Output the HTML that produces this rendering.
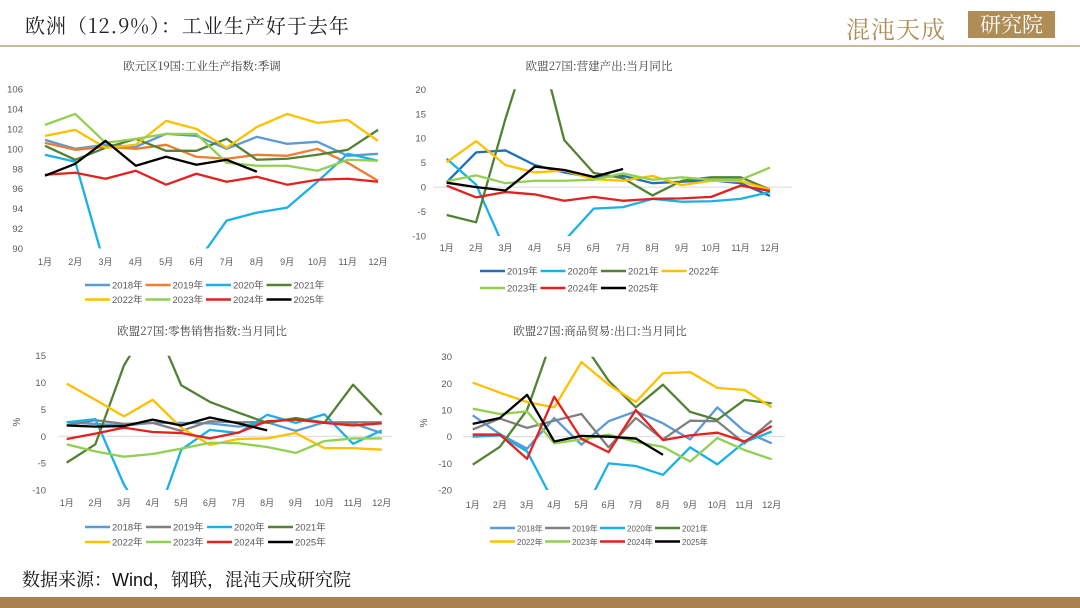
<!DOCTYPE html>
<html><head><meta charset="utf-8">
<style>
body{margin:0;width:1080px;height:608px;background:#fff;overflow:hidden;position:relative;font-family:"Liberation Sans","Noto Sans CJK SC",sans-serif}
#title{position:absolute;left:25px;top:10px;font-size:20px;color:#222;font-family:"Noto Serif CJK SC","Noto Sans CJK SC",serif;letter-spacing:1px}
#hline{position:absolute;left:0;top:45px;width:1080px;height:2px;background:#c9b99a}
#logo{position:absolute;left:846px;top:10px;font-size:24px;color:#b08d57;font-family:"Noto Serif CJK SC",serif;letter-spacing:1px}
#logobox{position:absolute;left:968px;top:11px;width:87px;height:27px;background:#b08d57;color:#fff;font-size:21px;text-align:center;line-height:27px;font-family:"Noto Serif CJK SC",serif}
#src{position:absolute;left:22px;top:566px;font-size:18px;color:#111;font-family:"Liberation Sans","Noto Serif CJK SC",serif}
#bar{position:absolute;left:0;top:597px;width:1080px;height:11px;background:#a98150}
svg{position:absolute;left:0;top:0}
</style></head><body>
<div id="title">欧洲（12.9%）：工业生产好于去年</div>
<div id="hline"></div>
<div id="logo">混沌天成</div>
<div id="logobox">研究院</div>
<div id="src">数据来源：Wind，钢联，混沌天成研究院</div>
<div id="bar"></div>
<svg id="svg" width="1080" height="608"></svg>
<script>
const months=["1月","2月","3月","4月","5月","6月","7月","8月","9月","10月","11月","12月"];
// Chart 1: Eurozone IP index
const c1Years=["2018年","2019年","2020年","2021年","2022年","2023年","2024年","2025年"];
const c1Ticks=[90,92,94,96,98,100,102,104,106];
const c1_2018=[100.9,100.0,100.4,100.2,101.5,101.3,100.0,101.2,100.5,100.7,99.3,99.5];
const c1_2019=[100.6,99.9,100.2,100.0,100.4,99.2,99.0,99.4,99.3,100.0,98.6,96.8];
const c1_2020=[99.4,98.7,88,75,80,88.5,92.8,93.6,94.1,96.7,99.5,98.8];
const c1_2021=[100.3,98.9,100.1,101.0,99.8,99.8,101.0,98.9,99.0,99.4,99.9,101.9];
const c1_2022=[101.3,101.9,100.1,100.4,102.8,102.0,100.1,102.2,103.5,102.6,102.9,100.8];
const c1_2023=[102.4,103.5,100.6,101.0,101.5,101.5,98.6,98.3,98.3,97.8,98.9,98.8];
const c1_2024=[97.4,97.6,97.0,97.8,96.4,97.5,96.7,97.2,96.4,96.9,97.0,96.7];
const c1_2025=[97.3,98.5,100.8,98.3,99.2,98.4,98.9,97.7];
// Chart 2: EU construction output yoy
const c2Years=["2019年","2020年","2021年","2022年","2023年","2024年","2025年"];
const c2Ticks=[-10,-5,0,5,10,15,20];
const c2_2019=[1.0,7.1,7.5,4.5,3.0,2.0,2.3,0.8,1.1,1.4,0.8,-1.8];
const c2_2020=[5.8,0.5,-13,-25,-11,-4.4,-4.1,-2.4,-3.0,-2.9,-2.4,-1.0];
const c2_2021=[-5.7,-7.2,14,33,9.6,2.9,1.8,-1.7,1.3,2.0,2.0,-0.5];
const c2_2022=[5.1,9.4,4.5,3.0,3.4,1.6,1.3,2.3,0.4,1.3,1.2,-0.5];
const c2_2023=[1.2,2.4,0.8,1.3,1.3,1.5,2.8,1.5,2.0,1.5,1.5,4.0];
const c2_2024=[0.3,-2.1,-1.0,-1.5,-2.8,-2.0,-2.8,-2.4,-2.3,-2.0,0.3,-0.8];
const c2_2025=[0.9,0.0,-0.7,4.2,3.5,2.1,3.7];
// Chart 3: EU retail yoy
const c3Years=c1Years;
const c3Ticks=[-10,-5,0,5,10,15];
const c3_2018=[2.6,2.3,2.0,2.5,2.5,2.4,1.8,2.6,1.0,2.6,2.4,0.6];
const c3_2019=[2.0,3.0,2.3,2.5,1.0,2.8,2.6,2.6,3.3,2.6,2.6,2.6];
const c3_2020=[2.6,3.2,-9,-17.5,-2.5,1.2,0.6,4.0,2.5,4.1,-1.4,1.1];
const c3_2021=[-4.9,-1.5,13.2,22,9.5,6.4,4.4,2.5,3.4,2.5,9.6,4.0];
const c3_2022=[9.8,6.8,3.7,6.8,1.6,-1.6,-0.5,-0.4,0.6,-2.2,-2.2,-2.5];
const c3_2023=[-1.5,-2.8,-3.8,-3.3,-2.3,-1.2,-1.3,-2.0,-3.1,-0.9,-0.4,-0.4];
const c3_2024=[-0.5,0.5,1.6,0.8,0.6,-0.4,0.7,2.8,3.1,2.5,2.0,2.4];
const c3_2025=[2.0,1.8,1.9,3.1,2.0,3.5,2.4,1.1];
// Chart 4: EU goods exports yoy
const c4Years=c1Years;
const c4Ticks=[-20,-10,0,10,20,30];
const c4_2018=[8.0,1.0,-4.5,7.0,-3.0,5.8,9.5,5.0,-1.0,11.0,2.0,-2.5];
const c4_2019=[2.7,6.8,3.3,6.0,8.5,-4.0,7.0,-1.0,6.0,5.8,-2.5,6.0];
const c4_2020=[0.0,0.5,-5.5,-25,-30,-10,-11,-14.3,-4.0,-10.4,-2.0,1.9];
const c4_2021=[-10.5,-3.8,10.0,39,36,21,11,19.5,9.3,6.3,13.8,12.5];
const c4_2022=[20.3,16.5,13.0,11.0,28.0,19.5,13.0,23.8,24.2,18.3,17.5,11.0];
const c4_2023=[10.5,8.5,9.5,-2.5,-1.0,0.8,-2.0,-3.8,-9.3,-0.5,-5.0,-8.5];
const c4_2024=[0.8,0.8,-8.3,15.0,-0.8,-5.8,10.0,-1.3,0.5,1.5,-1.8,4.0];
const c4_2025=[4.8,7.0,15.7,-1.8,0.3,0.0,-0.7,-6.8];

const C={b18:"#5b9bd5",o19:"#ed7d31",g19:"#808080",d19:"#1f70b8",c20:"#1ab0e8",g21:"#548235",y22:"#ffc000",l23:"#92d050",r24:"#e3211f",k25:"#000"};
const NS="http://www.w3.org/2000/svg";
const svg=document.getElementById('svg');
function mk(tag,attrs,parent){const e=document.createElementNS(NS,tag);for(const k in attrs)e.setAttribute(k,attrs[k]);(parent||svg).appendChild(e);return e;}

function chart(o){
  const g=mk('g',{});
  
  
  const ymin=o.ticks[0],ymax=o.ticks[o.ticks.length-1];
  const Y=v=>o.yTop+(ymax-v)/(ymax-ymin)*(o.yBot-o.yTop);
  const X=i=>o.x0+i*(o.x1-o.x0)/11;
  const t=mk('text',{x:o.tx,y:o.ty,'text-anchor':'middle','font-size':11.5,fill:'#404040','font-family':'"Noto Serif CJK SC",serif'},g);
  t.textContent=o.title;
  
  
  o.ticks.forEach(v=>{const tt=mk('text',{x:o.yLabX,y:Y(v)+3.5,'text-anchor':'end','font-size':9.5,fill:'#595959'},g);tt.textContent=v;
    
    });
  months.forEach((m,i)=>{const tt=mk('text',{x:X(i),y:o.xLabY,'text-anchor':'middle','font-size':9,fill:'#595959'},g);tt.textContent=m;
    
    });
  if(o.pct){const p=mk('text',{x:o.pctX,y:o.pctY,'text-anchor':'middle','font-size':10,fill:'#595959',transform:`rotate(-90 ${o.pctX} ${o.pctY})`},g);p.textContent='%';
    
    }
  if(o.zero){const z=mk('line',{x1:o.zx0,x2:o.zx1,y1:Y(0),y2:Y(0),stroke:'#d9d9d9','stroke-width':1},g);
    
    }
  const cid='clip'+o.id;
  const cp=mk('clipPath',{id:cid},g);mk('rect',{x:o.x0-5,y:o.yTop,width:o.x1-o.x0+12,height:o.yBot-o.yTop},cp);
  const sg=mk('g',{'clip-path':`url(#${cid})`},g);
  o.series.forEach((s,k)=>{
    const pts=s.data.map((v,i)=>X(i)+','+Y(v)).join(' ');
    const pl=mk('polyline',{points:pts,fill:'none',stroke:s.color,'stroke-width':2.3,'stroke-linejoin':'round'},sg);
    
    
    const row=k<o.perRow?0:1, col=k%o.perRow;
    const lx=o.legX+col*o.legDx, ly=o.legY[row];
    const lg=mk('g',{},g);
    
    
    mk('line',{x1:lx,x2:lx+o.legLen,y1:ly,y2:ly,stroke:s.color,'stroke-width':2.5},lg);
    const lt=mk('text',{x:lx+o.legLen+2,y:ly+3.5,'font-size':o.legFs,fill:'#595959'},lg);lt.textContent=s.label;
  });
}
function ser(years,arrs,cols){return years.map((y,i)=>({label:y,data:arrs[i],color:cols[i]}));}

chart({id:1,name:'eurozone-ip-chart',title:'欧元区19国:工业生产指数:季调',tx:202,ty:70,ticks:c1Ticks,yTop:89,yBot:248.5,x0:45,x1:378,yLabX:23,xLabY:265,
  series:ser(c1Years,[c1_2018,c1_2019,c1_2020,c1_2021,c1_2022,c1_2023,c1_2024,c1_2025],[C.b18,C.o19,C.c20,C.g21,C.y22,C.l23,C.r24,C.k25]),
  perRow:4,legX:85,legDx:60.5,legY:[285,299.5],legLen:25,legFs:9.5});
chart({id:2,name:'eu-construction-chart',title:'欧盟27国:营建产出:当月同比',tx:599,ty:70,ticks:c2Ticks,yTop:89.3,yBot:236,x0:446.7,x1:770,yLabX:426,xLabY:251,zero:true,zx0:433,zx1:792,
  series:ser(c2Years,[c2_2019,c2_2020,c2_2021,c2_2022,c2_2023,c2_2024,c2_2025],[C.d19,C.c20,C.g21,C.y22,C.l23,C.r24,C.k25]),
  perRow:4,legX:480,legDx:60.5,legY:[271,288],legLen:25,legFs:9.5});
chart({id:3,name:'eu-retail-chart',title:'欧盟27国:零售销售指数:当月同比',tx:202,ty:335,ticks:c3Ticks,yTop:355.7,yBot:490,x0:66.7,x1:381.7,yLabX:46,xLabY:506,pct:true,pctX:20,pctY:422,zero:true,zx0:58,zx1:392,
  series:ser(c3Years,[c3_2018,c3_2019,c3_2020,c3_2021,c3_2022,c3_2023,c3_2024,c3_2025],[C.b18,C.g19,C.c20,C.g21,C.y22,C.l23,C.r24,C.k25]),
  perRow:4,legX:85,legDx:61,legY:[527,542],legLen:25,legFs:9.5});
chart({id:4,name:'eu-exports-chart',title:'欧盟27国:商品贸易:出口:当月同比',tx:600,ty:335,ticks:c4Ticks,yTop:356.7,yBot:490,x0:472.7,x1:771.7,yLabX:452,xLabY:508,pct:true,pctX:427,pctY:423,zero:true,zx0:463,zx1:785,
  series:ser(c4Years,[c4_2018,c4_2019,c4_2020,c4_2021,c4_2022,c4_2023,c4_2024,c4_2025],[C.b18,C.g19,C.c20,C.g21,C.y22,C.l23,C.r24,C.k25]),
  perRow:4,legX:490,legDx:55,legY:[528,541.5],legLen:25,legFs:8});
</script>
</body></html>
